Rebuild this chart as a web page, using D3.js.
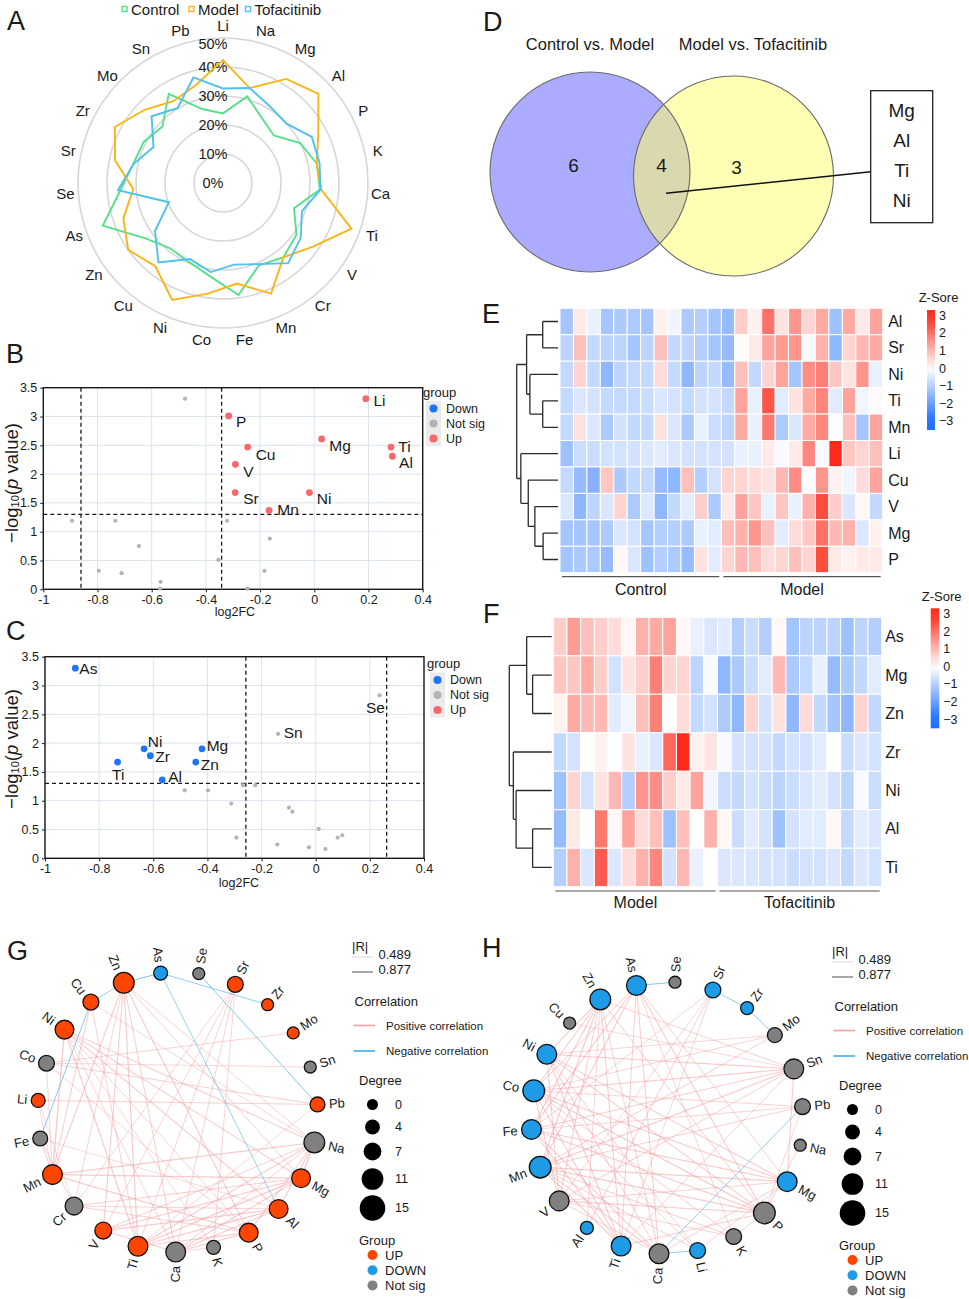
<!DOCTYPE html>
<html>
<head>
<meta charset="utf-8">
<script src="https://cdn.jsdelivr.net/npm/d3@7"></script>
<style>
  body { margin: 0; background: #fff; }
</style>
</head>
<body>
<div id="vis"></div>
<script>
// ---------- values ----------

// A: radar, % per element
const radarElements = ["Li","Na","Mg","Al","P","K","Ca","Ti","V","Cr","Mn","Fe","Co","Ni","Cu","Zn","As","Se","Sr","Zr","Mo","Sn","Pb"];
const radarControl = [24,31,26,24,30,33,33.5,26,31,33,31,39,32.5,29.6,29,33,44,35.4,31.7,30.8,28.6,36,26.5];
const radarModel = [42.4,34,42,45,37,33,34,47,38,33,41.6,35,38.5,44,37,40,36.5,31,38,42,37,33,35];
const radarTofacitinib = [32.6,34,31,30,34.5,34,33.7,28.9,32.8,35.6,30.5,28.4,31,28.6,35.3,28.7,19.8,36.3,31.6,27,33.7,30.2,37.8];
const radarTicks = [0, 10, 20, 30, 40, 50];
const radarSeries = ["Control", "Model", "Tofacitinib"];

// B, C: volcano plots  [element, log2FC, -log10(p), group]
const volcanoGroups = ["Down", "Not sig", "Up"];
const volcanoB = [
  ["Li",0.19,3.31,"Up"], ["P",-0.316,3.01,"Up"], ["Mg",0.027,2.61,"Up"], ["Cu",-0.246,2.47,"Up"],
  ["Ti",0.283,2.47,"Up"], ["Al",0.288,2.31,"Up"], ["V",-0.291,2.17,"Up"], ["Sr",-0.292,1.68,"Up"],
  ["Ni",-0.018,1.68,"Up"], ["Mn",-0.167,1.37,"Up"],
  [null,-0.477,3.31,"Not sig"], [null,-0.894,1.19,"Not sig"], [null,-0.734,1.19,"Not sig"],
  [null,-0.322,1.19,"Not sig"], [null,-0.164,0.88,"Not sig"], [null,-0.647,0.75,"Not sig"],
  [null,-0.354,0.51,"Not sig"], [null,-0.795,0.32,"Not sig"], [null,-0.711,0.28,"Not sig"],
  [null,-0.184,0.32,"Not sig"], [null,-0.567,0.13,"Not sig"], [null,-0.569,0.01,"Not sig"],
  [null,-0.247,0.01,"Not sig"]
];
const volcanoBCutFC = [-0.861, -0.342];
const volcanoC = [
  ["As",-0.888,3.30,"Down"], ["Ni",-0.634,1.90,"Down"], ["Mg",-0.42,1.90,"Down"], ["Zr",-0.611,1.78,"Down"],
  ["Ti",-0.732,1.67,"Down"], ["Zn",-0.443,1.67,"Down"], ["Al",-0.567,1.36,"Down"],
  ["Se",0.236,2.83,"Not sig"], ["Sn",-0.139,2.16,"Not sig"],
  [null,-0.484,1.18,"Not sig"], [null,-0.398,1.18,"Not sig"], [null,-0.269,1.27,"Not sig"],
  [null,-0.223,1.27,"Not sig"], [null,-0.312,0.95,"Not sig"], [null,-0.099,0.88,"Not sig"],
  [null,-0.086,0.81,"Not sig"], [null,0.011,0.51,"Not sig"], [null,-0.293,0.36,"Not sig"],
  [null,0.081,0.36,"Not sig"], [null,0.098,0.40,"Not sig"], [null,-0.142,0.24,"Not sig"],
  [null,-0.025,0.19,"Not sig"], [null,0.036,0.16,"Not sig"]
];
const volcanoCCutFC = [-0.258, 0.262];
const pCut = 1.301;
const fcTicks = [-1, -0.8, -0.6, -0.4, -0.2, 0, 0.2, 0.4];
const pTicks = [0, 0.5, 1, 1.5, 2, 2.5, 3, 3.5];

// D: Venn
const vennSets = ["Control vs. Model", "Model vs. Tofacitinib"];
const vennCounts = [6, 4, 3];
const vennShared = ["Mg", "Al", "Ti", "Ni"];

// E: heatmap Control vs Model (z-scores)
const heatERows = ["Al","Sr","Ni","Ti","Mn","Li","Cu","V","Mg","P"];
const heatEGroups = ["Control", "Model"];
const heatE = [
  [-1.2,0.3,-0.3,-1.2,-1.1,-1.1,-1.2,0.2,-0.2,-1.1,-1.0,-1.2,-1.4,0.7,0.2,2.0,0.4,1.5,0.6,1.2,-1.3,1.2,0.3,1.3],
  [-0.9,0.9,-0.8,-0.9,-0.9,-1.2,-0.9,0.9,-0.8,-0.9,-1.0,-1.2,-1.4,0.05,0.3,1.3,1.4,1.5,-0.1,1.1,-1.5,0.6,1.0,1.2],
  [-0.8,0.6,-0.8,-1.5,-0.9,-0.8,-0.8,0.5,-0.8,-1.5,-0.9,-0.8,-1.4,0.9,-0.8,0.6,1.3,-1.2,1.6,1.8,0.8,0.4,1.5,-0.3],
  [-0.8,-0.5,-0.6,-0.8,-0.8,-0.8,-0.7,-0.5,-0.6,-0.8,-0.6,-0.6,-0.8,1.3,-0.3,2.4,-0.4,0.4,1.2,1.7,-0.4,1.3,-0.2,0.05],
  [-0.8,0.4,-0.5,-1.1,-0.6,-0.8,-0.8,0.4,-0.5,-1.1,-0.3,-0.7,-0.9,1.2,-0.3,1.9,-1.1,-0.5,1.2,1.7,0.0,0.9,-1.2,1.3],
  [-1.3,-0.7,-0.7,-0.6,-0.6,-0.6,-0.5,-0.4,-0.5,-0.6,-0.6,-0.6,-0.6,-0.3,-0.3,0.3,-0.1,0.3,1.7,-0.1,3.0,0.8,0.6,0.9],
  [-0.8,-1.4,-1.6,0.8,-1.1,-0.8,-0.8,-1.4,-1.5,0.9,-1.0,-0.6,0.6,0.6,0.5,0.4,1.0,1.6,0.0,1.5,0.2,-0.2,0.5,1.3],
  [-0.5,-1.5,-0.9,-0.5,0.6,-1.1,-0.5,-1.5,-0.8,-0.4,0.7,-1.1,0.3,1.3,0.8,-0.3,0.8,-0.3,1.1,2.5,0.7,-0.5,0.1,-0.8],
  [-1.2,-1.2,-1.2,-1.1,-0.5,-0.6,-1.2,-1.0,-1.0,-1.1,-0.3,-0.4,0.9,1.1,1.5,0.9,-0.4,0.5,0.8,2.0,1.0,1.1,-0.5,0.2],
  [-1.2,-1.1,-1.1,-1.4,0.1,-0.5,-1.3,-1.0,-1.1,-1.4,0.4,-0.4,0.6,1.0,0.9,0.5,0.6,0.9,0.6,2.5,0.3,0.2,0.3,0.3]
];
// row clustering, merge heights relative to root
const treeE = { h: 1, c: [
  { h: 0.76, c: [ { h: 0.37, c: ["Al","Sr"] }, { h: 0.68, c: ["Ni", { h: 0.37, c: ["Ti","Mn"] }] } ] },
  { h: 0.90, c: ["Li", { h: 0.72, c: ["Cu", { h: 0.56, c: ["V", { h: 0.36, c: ["Mg","P"] }] }] }] }
]};

// F: heatmap Model vs Tofacitinib
const heatFRows = ["As","Mg","Zn","Zr","Ni","Al","Ti"];
const heatFGroups = ["Model", "Tofacitinib"];
const heatF = [
  [0.7,1.4,0.9,0.7,0.5,0.1,1.1,1.2,1.3,0.1,-0.3,-0.5,-0.4,-1.0,-0.7,-1.0,0.1,-1.2,-0.9,-0.9,-0.9,-1.3,-0.9,-1.0],
  [0.8,0.8,1.2,0.7,-0.6,0.4,0.7,1.8,0.6,0.6,-0.9,-0.1,-1.5,-1.1,-0.7,-0.4,1.0,-1.1,-0.8,-0.3,-1.4,-1.1,-0.8,-0.4],
  [0.2,1.2,1.0,1.0,-0.4,-0.2,0.9,1.8,0.0,0.5,-0.8,-0.6,-1.1,-1.5,0.6,-0.6,0.4,-1.5,0.5,-0.8,-1.2,-1.5,0.6,-0.8],
  [-0.8,-0.6,0.0,0.2,0.0,0.4,-0.3,-0.5,2.1,3.0,0.2,0.4,-0.1,-0.6,-0.6,-0.6,-0.8,-0.6,-0.6,-0.4,0.0,-0.7,-0.5,-0.6],
  [-1.3,0.6,-0.6,0.4,1.0,-1.0,1.5,1.6,0.7,0.3,1.3,-0.2,-0.7,-0.8,-0.6,-0.7,-0.9,-0.7,-0.5,-0.4,-0.6,-0.9,-0.1,-0.7],
  [-1.4,0.3,0.0,1.9,0.1,1.3,0.5,0.9,-1.3,0.9,0.0,1.1,0.1,-0.7,-0.4,-0.6,-1.3,-0.6,-0.4,-0.4,0.1,-0.8,-0.4,-0.5],
  [-1.0,1.1,-0.5,2.3,-0.5,0.5,1.1,1.7,-0.6,1.0,-0.3,0.0,-0.5,-0.5,-0.5,-0.6,-0.6,-0.7,-0.6,-0.6,-0.5,-0.8,-0.5,-0.6]
];
const treeF = { h: 1, c: [
  { h: 0.59, c: ["As", { h: 0.45, c: ["Mg","Zn"] }] },
  { h: 0.905, c: ["Zr", { h: 0.84, c: ["Ni", { h: 0.45, c: ["Al","Ti"] }] }] }
]};
const zTicks = [3, 2, 1, 0, -1, -2, -3];

// G, H: correlation networks  edges [a, b, R]
const netGroups = ["UP", "DOWN", "Not sig"];
const netGNodes = ["As","Se","Sr","Zr","Mo","Sn","Pb","Na","Mg","Al","P","K","Ca","Ti","V","Cr","Mn","Fe","Li","Co","Ni","Cu","Zn"];
const netGGroup = ["DOWN","Not sig","UP","UP","UP","Not sig","UP","Not sig","UP","UP","UP","Not sig","Not sig","UP","UP","Not sig","UP","Not sig","UP","Not sig","UP","UP","UP"];
const netGEdges = [
  ["As","Zn",-0.62],["As","Zr",-0.55],["As","Al",-0.51],["Se","Pb",-0.58],["Cu","Zn",-0.53],["Cu","Fe",-0.56],
  ["Zn","Mn",0.71],["Zn","Cr",0.58],["Zn","V",0.66],["Zn","Ti",0.74],["Zn","Ca",0.63],["Zn","P",0.69],["Zn","Mg",0.61],["Zn","Na",0.57],
  ["Ni","Na",0.64],["Ni","Mg",0.72],["Ni","Al",0.68],["Ni","P",0.59],["Ni","Ca",0.55],["Ni","Ti",0.77],["Ni","Mn",0.81],["Ni","K",0.52],
  ["Cu","Na",0.54],["Cu","Ti",0.60],["Cu","Mn",0.65],
  ["Co","Mo",0.56],["Co","Sn",0.53],["Co","Pb",0.60],["Co","Mn",0.58],
  ["Li","Pb",0.62],["Li","Mn",0.55],["Li","Cr",0.51],
  ["Fe","Mn",0.66],["Fe","Cr",0.59],["Fe","Al",0.52],
  ["Mn","Na",0.70],["Mn","Mg",0.75],["Mn","P",0.68],
  ["Cr","Mg",0.63],["Cr","Al",0.57],["Cr","Sr",0.54],["Cr","P",0.60],
  ["V","Na",0.62],["V","Mg",0.70],["V","Sr",0.55],["V","Ca",0.66],["V","Al",0.73],
  ["Ti","Na",0.69],["Ti","Sr",0.58],["Ti","Mg",0.80],["Ti","P",0.71],["Ti","Al",0.76],["Ti","Pb",0.53],
  ["Ca","Na",0.60],["Ca","Sr",0.57],["Ca","P",0.74],["Ca","Mg",0.67],["Ca","Al",0.70],["Ca","K",0.52],
  ["K","Sr",0.56],["P","Na",0.65],["P","Co",0.54],["Al","Na",0.72],["Na","Mg",0.85]
];
const netHNodes = ["As","Se","Sr","Zr","Mo","Sn","Pb","Na","Mg","P","K","Li","Ca","Ti","Al","V","Mn","Fe","Co","Ni","Cu","Zn"];
const netHGroup = ["DOWN","Not sig","DOWN","DOWN","Not sig","Not sig","Not sig","Not sig","DOWN","Not sig","Not sig","DOWN","Not sig","DOWN","DOWN","Not sig","DOWN","DOWN","DOWN","DOWN","Not sig","DOWN"];
const netHEdges = [
  ["As","Se",-0.60],["Sr","Zr",-0.55],["Zr","Mo",-0.58],["Pb","Ca",-0.52],["Ca","Li",-0.57],
  ["Zn","Ni",0.72],["Zn","Co",0.68],["Zn","Fe",0.70],["Zn","Mn",0.75],["Zn","V",0.63],["Zn","Al",0.55],["Zn","Ti",0.66],["Zn","Ca",0.60],["Zn","P",0.62],["Zn","Sn",0.58],
  ["As","Ti",0.61],["As","Ca",0.64],["As","K",0.55],["As","P",0.67],["As","Mg",0.59],["As","Mn",0.70],["As","Fe",0.65],["As","Co",0.62],
  ["Sr","Ti",0.56],["Sr","Al",0.60],["Sr","V",0.53],["Sr","Fe",0.55],
  ["Mo","Co",0.57],["Mo","Mn",0.60],["Mo","Ni",0.54],
  ["Sn","Co",0.69],["Sn","Ni",0.66],["Sn","Fe",0.63],["Sn","Mn",0.71],["Sn","V",0.60],["Sn","Ti",0.58],["Sn","Cu",0.52],["Sn","Mg",0.64],
  ["Pb","Co",0.56],["Pb","Fe",0.58],["Pb","Mn",0.61],["Pb","P",0.55],
  ["Na","P",0.60],
  ["Mg","Co",0.70],["Mg","Fe",0.67],["Mg","Ni",0.65],["Mg","Mn",0.72],["Mg","V",0.60],["Mg","Li",0.55],["Mg","Ca",0.58],
  ["P","Ni",0.70],["P","Co",0.73],["P","Fe",0.69],["P","Mn",0.77],["P","V",0.66],["P","Ti",0.62],["P","K",0.57],
  ["K","Co",0.60],["K","Mn",0.63],["K","V",0.56],
  ["Li","Ni",0.58],["Li","Co",0.61],["Li","Mn",0.60],
  ["Ca","Ni",0.62],["Ca","Fe",0.65],["Ca","Mn",0.68],["Ca","V",0.63],
  ["Ti","Ni",0.67],["Ti","Co",0.70],["Ti","Fe",0.66],["Ti","Mn",0.72],
  ["V","Ni",0.64],["V","Co",0.66]
];
const degreeTicks = [0, 4, 7, 11, 15];
const rLegend = [0.489, 0.877];

// ---------- drawing ----------
const W = 969, H = 1299;
const svg = d3.select('#vis').append('svg')
  .attr('width', W).attr('height', H)
  .style('font-family', 'Arial, "Liberation Sans", Helvetica, sans-serif');
svg.append('rect').attr('width', W).attr('height', H).attr('fill', '#fff');

const ink = '#1a1a1a';

function label(x, y, s, size, anchor, g) {
  return (g || svg).append('text')
    .attr('x', x).attr('y', y)
    .attr('font-size', size)
    .attr('text-anchor', anchor || 'start')
    .attr('dominant-baseline', 'central')
    .attr('fill', ink)
    .text(s);
}

// panel letters
const letterPos = { A: [7, 30], B: [6, 363], C: [6, 640], D: [483, 31], E: [482, 323], F: [483, 623], G: [7, 960], H: [482, 957] };
Object.entries(letterPos).forEach(([k, p]) => {
  svg.append('text').attr('x', p[0]).attr('y', p[1]).attr('font-size', 27).attr('fill', ink).text(k);
});

// ----- A: radar -----
function drawRadar() {
  const g = svg.append('g').attr('transform', 'translate(223,183)');
  const r = d3.scaleLinear().domain([0, 50]).range([0, 145]);
  const n = radarElements.length;
  const ang = d3.scalePoint().domain(radarElements).range([0, 2 * Math.PI * (n - 1) / n]);
  const colors = d3.scaleOrdinal().domain(radarSeries).range(['#55e08a', '#fbb416', '#4fc0f2']);

  g.selectAll('circle.ring').data(radarTicks.filter(d => d > 0)).enter().append('circle')
    .attr('r', d => r(d)).attr('fill', 'none')
    .attr('stroke', '#d6d6d6').attr('stroke-width', 1.6);

  // the outer tick label sits a little inside its ring, clear of "Li"
  g.selectAll('text.tick').data(radarTicks).enter().append('text')
    .attr('x', -10).attr('y', d => -Math.min(r(d), 139))
    .attr('text-anchor', 'middle').attr('dominant-baseline', 'central')
    .attr('font-size', 14.5).attr('fill', ink)
    .text(d => d + '%');

  const line = d3.lineRadial().curve(d3.curveLinearClosed)
    .angle((d, i) => ang(radarElements[i]))
    .radius(d => r(d));
  const series = [radarControl, radarModel, radarTofacitinib];
  g.selectAll('path.series').data(series).enter().append('path')
    .attr('d', d => line(d))
    .attr('fill', 'none')
    .attr('stroke', (d, i) => colors(radarSeries[i]))
    .attr('stroke-width', 1.9);

  g.selectAll('text.el').data(radarElements).enter().append('text')
    .attr('x', d => 158 * Math.sin(ang(d)))
    .attr('y', d => -158 * Math.cos(ang(d)))
    .attr('text-anchor', 'middle').attr('dominant-baseline', 'central')
    .attr('font-size', 15).attr('fill', ink)
    .text(d => d);

  // legend along the top
  const lx = [124.5, 191.5, 248];
  radarSeries.forEach((s, i) => {
    svg.append('rect').attr('x', lx[i] - 2.5).attr('y', 6.5).attr('width', 5).attr('height', 5)
      .attr('fill', '#fff').attr('stroke', colors(s)).attr('stroke-width', 1.4);
    label(lx[i] + 6.5, 9, s, 15);
  });
}

// ----- B, C: volcano -----
const volColor = d3.scaleOrdinal().domain(volcanoGroups).range(['#1f74f4', '#b4b4b4', '#f8676b']);
const fmt = d => String(+d.toFixed(1));

function drawVolcano(data, cutFC, box, nudge, lg, ylab, xlab) {
  const x = d3.scaleLinear().domain([-1, 0.4]).range([box.x0, box.x1]);
  const y = d3.scaleLinear().domain([0, 3.5]).range([box.y1, box.y0]);
  const g = svg.append('g');

  g.selectAll('line.gx').data(fcTicks).enter().append('line')
    .attr('x1', d => x(d)).attr('x2', d => x(d)).attr('y1', box.y0).attr('y2', box.y1)
    .attr('stroke', '#dbe3ee').attr('stroke-width', 1);
  g.selectAll('line.gy').data(pTicks).enter().append('line')
    .attr('x1', box.x0).attr('x2', box.x1).attr('y1', d => y(d)).attr('y2', d => y(d))
    .attr('stroke', '#dbe3ee').attr('stroke-width', 1);

  const ax = g.append('g').attr('transform', `translate(0,${box.y1})`)
    .call(d3.axisBottom(x).tickValues(fcTicks).tickFormat(fmt).tickSize(3).tickSizeOuter(0));
  const ay = g.append('g').attr('transform', `translate(${box.x0},0)`)
    .call(d3.axisLeft(y).tickValues(pTicks).tickFormat(fmt).tickSize(3).tickSizeOuter(0));
  [ax, ay].forEach(a => {
    a.select('.domain').remove();
    a.selectAll('text').attr('font-size', 12.5).attr('fill', ink).attr('font-family', null);
    a.selectAll('line').attr('stroke', ink);
  });

  g.append('rect').attr('x', box.x0).attr('y', box.y0)
    .attr('width', box.x1 - box.x0).attr('height', box.y1 - box.y0)
    .attr('fill', 'none').attr('stroke', ink).attr('stroke-width', 1.4);

  // thresholds
  cutFC.forEach(c => {
    g.append('line').attr('x1', x(c)).attr('x2', x(c)).attr('y1', box.y0).attr('y2', box.y1)
      .attr('stroke', ink).attr('stroke-width', 1.3).attr('stroke-dasharray', '4,3');
  });
  g.append('line').attr('x1', box.x0).attr('x2', box.x1).attr('y1', y(pCut)).attr('y2', y(pCut))
    .attr('stroke', ink).attr('stroke-width', 1.3).attr('stroke-dasharray', '4,3');

  g.selectAll('circle.pt').data(data).enter().append('circle')
    .attr('cx', d => x(d[1])).attr('cy', d => y(d[2]))
    .attr('r', d => d[3] === 'Not sig' ? 2.1 : 3.4)
    .attr('fill', d => volColor(d[3]));

  data.filter(d => d[0]).forEach(d => {
    const nd = nudge[d[0]];
    g.append('text')
      .attr('x', x(d[1]) + nd[0]).attr('y', y(d[2]) + nd[1])
      .attr('text-anchor', nd[2] || 'start')
      .attr('font-size', 15.5).attr('fill', ink)
      .text(d[0]);
  });

  // legend
  g.append('rect').attr('x', lg.x + 3).attr('y', lg.y + 9).attr('width', 15).attr('height', 45).attr('fill', '#ebebeb');
  label(lg.x, lg.y, 'group', 13, 'start', g);
  volcanoGroups.forEach((s, i) => {
    g.append('circle').attr('cx', lg.x + 10.5).attr('cy', lg.y + 16.5 + i * 15).attr('r', 4)
      .attr('fill', volColor(s));
    label(lg.x + 23, lg.y + 16.5 + i * 15, s, 12.5, 'start', g);
  });

  const yl = g.append('text')
    .attr('transform', `translate(${ylab[0]},${ylab[1]}) rotate(-90)`)
    .attr('text-anchor', 'middle').attr('dominant-baseline', 'central')
    .attr('font-size', 18.5).attr('fill', ink);
  yl.append('tspan').text('\u2212log');
  yl.append('tspan').attr('font-size', 11).attr('dy', 4).text('10');
  yl.append('tspan').attr('dy', -4).text('(');
  yl.append('tspan').attr('font-style', 'italic').text('p');
  yl.append('tspan').text(' value)');

  label(xlab[0], xlab[1], 'log2FC', 12.5, 'middle', g);
}

// ----- D: Venn -----
function drawVenn() {
  const c1 = { x: 590, y: 172, r: 100 }, c2 = { x: 733.5, y: 176, r: 100 };
  const g = svg.append('g');
  g.append('defs').append('clipPath').attr('id', 'clipLeft')
    .append('circle').attr('cx', c1.x).attr('cy', c1.y).attr('r', c1.r);
  g.append('circle').attr('cx', c1.x).attr('cy', c1.y).attr('r', c1.r).attr('fill', '#abacff');
  g.append('circle').attr('cx', c2.x).attr('cy', c2.y).attr('r', c2.r).attr('fill', '#ffffb4');
  g.append('circle').attr('cx', c2.x).attr('cy', c2.y).attr('r', c2.r).attr('fill', '#d9d8ae')
    .attr('clip-path', 'url(#clipLeft)');
  [c1, c2].forEach(c => {
    g.append('circle').attr('cx', c.x).attr('cy', c.y).attr('r', c.r)
      .attr('fill', 'none').attr('stroke', '#6a6a6a').attr('stroke-width', 1.1);
  });

  label(590, 44, vennSets[0], 16.5, 'middle', g);
  label(753, 44, vennSets[1], 16.5, 'middle', g);
  const numPos = [[573.5, 165], [661.5, 165.5], [736.5, 167.5]];
  vennCounts.forEach((v, i) => label(numPos[i][0], numPos[i][1], v, 19, 'middle', g));

  g.append('line').attr('x1', 666).attr('y1', 193.3).attr('x2', 870.7).attr('y2', 171.7)
    .attr('stroke', '#111').attr('stroke-width', 1.5);
  g.append('rect').attr('x', 870.7).attr('y', 90.7).attr('width', 62).attr('height', 132)
    .attr('fill', '#fff').attr('stroke', '#222').attr('stroke-width', 1.3);
  vennShared.forEach((s, i) => label(901.7, 110 + i * 30.3, s, 19, 'middle', g));
}

// ----- E, F: heatmaps -----
const zColor = d3.scaleLinear().domain([-3, 0, 3]).range(['#1f6fff', '#ffffff', '#ff2a1a']).clamp(true);

function drawHeatmap(rows, values, tree, groups, cfg) {
  const g = svg.append('g');
  const cols = d3.range(values[0].length);
  const x = d3.scaleBand().domain(cols).range([cfg.x0, cfg.x1]);
  const y = d3.scaleBand().domain(rows).range([cfg.y0, cfg.y1]);

  rows.forEach((row, i) => {
    g.selectAll(null).data(values[i]).enter().append('rect')
      .attr('x', (d, j) => x(j)).attr('y', y(row))
      .attr('width', x.bandwidth()).attr('height', y.bandwidth())
      .attr('fill', d => zColor(d))
      .attr('stroke', '#fff').attr('stroke-width', 1);
    label(cfg.x1 + cfg.rowLabelGap, y(row) + y.bandwidth() / 2, row, 16, 'start', g);
  });

  // group bars under the columns
  const half = cols.length / 2;
  groups.forEach((name, k) => {
    const a = x(k * half) + 2, b = x(k * half + half - 1) + x.bandwidth() - 2;
    g.append('line').attr('x1', a).attr('x2', b).attr('y1', cfg.barY).attr('y2', cfg.barY)
      .attr('stroke', '#555').attr('stroke-width', 1.2);
    label((a + b) / 2, cfg.barY + cfg.textGap, name, 16, 'middle', g);
  });

  // row dendrogram
  const root = d3.hierarchy(tree, d => typeof d === 'string' ? null : d.c);
  const hx = d3.scaleLinear().domain([0, 1]).range([cfg.leafX, cfg.rootX]);
  root.eachAfter(nd => {
    if (!nd.children) {
      nd.px = cfg.leafX;
      nd.py = y(nd.data) + y.bandwidth() / 2;
    } else {
      nd.px = hx(nd.data.h);
      nd.py = d3.mean(nd.children, c => c.py);
    }
  });
  const path = d3.path();
  root.each(nd => {
    if (!nd.children) return;
    const ys = nd.children.map(c => c.py);
    path.moveTo(nd.px, d3.min(ys));
    path.lineTo(nd.px, d3.max(ys));
    nd.children.forEach(c => { path.moveTo(nd.px, c.py); path.lineTo(c.px, c.py); });
  });
  g.append('path').attr('d', path.toString()).attr('fill', 'none')
    .attr('stroke', '#2b2b2b').attr('stroke-width', 1.3);

  // colour key
  const lg = cfg.legend;
  const ly = d3.scaleLinear().domain([3.33, -3.5]).range([lg.y0, lg.y1]);
  const gid = 'zgrad' + cfg.id;
  const grad = g.append('defs').append('linearGradient').attr('id', gid)
    .attr('x1', 0).attr('x2', 0).attr('y1', 0).attr('y2', 1);
  d3.range(0, 1.0001, 0.1).forEach(t => {
    grad.append('stop').attr('offset', t).attr('stop-color', zColor(ly.invert(lg.y0 + t * (lg.y1 - lg.y0))));
  });
  g.append('rect').attr('x', lg.x).attr('y', lg.y0).attr('width', lg.w).attr('height', lg.y1 - lg.y0)
    .attr('fill', `url(#${gid})`);
  zTicks.forEach(v => label(lg.x + lg.w + 4, ly(v), v < 0 ? '\u2212' + (-v) : String(v), 12.5, 'start', g));
  label(lg.titleX, lg.titleY, 'Z-Sore', 13, 'middle', g);
}

// ----- G, H: correlation networks -----
const netColor = d3.scaleOrdinal().domain(netGroups).range(['#ff4500', '#1e9be6', '#808080']);
const nodeSize = d3.scaleLinear().domain([0, 15]).range([5.5, 12.8]);
const edgeWidth = d3.scaleLinear().domain(rLegend).range([0.7, 1.5]);

function drawNetwork(nodes, groups, edges, cfg) {
  const g = svg.append('g');
  const n = nodes.length;
  const degree = new Map(nodes.map(d => [d, 0]));
  edges.forEach(([a, b]) => {
    degree.set(a, degree.get(a) + 1);
    degree.set(b, degree.get(b) + 1);
  });
  const ang = d3.scaleLinear().domain([0, n]).range([cfg.start, cfg.start + 360]);
  const pos = new Map(nodes.map((d, i) => {
    const t = ang(i) * Math.PI / 180;
    return [d, { x: cfg.cx + cfg.R * Math.sin(t), y: cfg.cy - cfg.R * Math.cos(t), a: ang(i) }];
  }));

  g.selectAll('line.edge').data(edges.filter(e => e[2] > 0).concat(edges.filter(e => e[2] < 0)))
    .enter().append('line')
    .attr('x1', d => pos.get(d[0]).x).attr('y1', d => pos.get(d[0]).y)
    .attr('x2', d => pos.get(d[1]).x).attr('y2', d => pos.get(d[1]).y)
    .attr('stroke', d => d[2] > 0 ? '#f19a9a' : '#5ab9e8')
    .attr('stroke-opacity', d => d[2] > 0 ? 0.5 : 0.85)
    .attr('stroke-width', d => edgeWidth(Math.abs(d[2])));

  nodes.forEach((d, i) => {
    const p = pos.get(d);
    const rr = nodeSize(degree.get(d));
    g.append('circle').attr('cx', p.x).attr('cy', p.y).attr('r', rr)
      .attr('fill', netColor(groups[i])).attr('stroke', '#111').attr('stroke-width', 1.3);
    const phi = p.a - 90;
    const t = phi * Math.PI / 180;
    const lr = cfg.R + rr + 4;
    const right = Math.cos(t) >= -0.001;
    g.append('text')
      .attr('transform', `translate(${cfg.cx + lr * Math.cos(t)},${cfg.cy + lr * Math.sin(t)}) rotate(${right ? phi : phi + 180})`)
      .attr('text-anchor', right ? 'start' : 'end')
      .attr('dominant-baseline', 'central')
      .attr('font-size', 13).attr('fill', ink)
      .text(d);
  });

  // legend
  const ox = cfg.legend[0], oy = cfg.legend[1];
  label(ox, oy + 1, '|R|', 13, 'start', g);
  const rCol = ['#c9c9c9', '#8a8a8a'];
  rLegend.forEach((v, i) => {
    g.append('line').attr('x1', ox).attr('x2', ox + 21).attr('y1', oy + 12 + i * 15).attr('y2', oy + 12 + i * 15)
      .attr('stroke', rCol[i]).attr('stroke-width', edgeWidth(v));
    label(ox + 26.5, oy + 9.5 + i * 15, v, 13, 'start', g);
  });
  label(ox + 2.5, oy + 56, 'Correlation', 13, 'start', g);
  [['Positive correlation', '#f5a0a0'], ['Negative correlation', '#3cb0ee']].forEach((c, i) => {
    g.append('line').attr('x1', ox + 1.5).attr('x2', ox + 23).attr('y1', oy + 80.5 + i * 25.5).attr('y2', oy + 80.5 + i * 25.5)
      .attr('stroke', c[1]).attr('stroke-width', 1.6);
    label(ox + 34, oy + 80.5 + i * 25.5, c[0], 11.5, 'start', g);
  });
  label(ox + 7, oy + 135.5, 'Degree', 13, 'start', g);
  const dy = [159.5, 182, 206.5, 234, 263];
  degreeTicks.forEach((v, i) => {
    g.append('circle').attr('cx', ox + 20.5).attr('cy', oy + dy[i]).attr('r', nodeSize(v)).attr('fill', '#000');
    label(ox + 43, oy + dy[i], v, 12.5, 'start', g);
  });
  label(ox + 7, oy + 295.5, 'Group', 13, 'start', g);
  netGroups.forEach((s, i) => {
    g.append('circle').attr('cx', ox + 20.5).attr('cy', oy + 310 + i * 15.2).attr('r', 5).attr('fill', netColor(s));
    label(ox + 33, oy + 310 + i * 15.2, s, 13, 'start', g);
  });
}

drawRadar();
drawVolcano(volcanoB, volcanoBCutFC, { x0: 43.3, x1: 422.7, y0: 387.7, y1: 589.3 },
  { Li: [7.7, 7.7], P: [7.3, 11.3], Mg: [7.7, 11.7], Cu: [8, 13], Ti: [7.3, 4.7], Al: [6.7, 12],
    V: [7.7, 12.3], Sr: [8, 11], Ni: [7.3, 11], Mn: [8.3, 4.7] },
  { x: 423, y: 392 }, [10.5, 483], [235, 612]);
drawVolcano(volcanoC, volcanoCCutFC, { x0: 45, x1: 424, y0: 656.7, y1: 858.3 },
  { As: [4, 5.3], Ni: [3.7, -2.3], Zr: [5, 6.7], Ti: [0.7, 17.7, 'middle'], Mg: [4.7, 2],
    Zn: [5, 8.3], Al: [6, 1.7], Sn: [5.7, 4.3], Se: [5.3, 18, 'end'] },
  { x: 427, y: 663.5 }, [10.5, 749], [239, 883]);
drawVenn();
drawHeatmap(heatERows, heatE, treeE, heatEGroups, {
  id: 'E', x0: 560, x1: 882.7, y0: 308.3, y1: 572.7, rowLabelGap: 5.5,
  barY: 576.7, textGap: 13, leafX: 558, rootX: 516.7,
  legend: { x: 927, w: 8, y0: 310, y1: 430, titleX: 938.5, titleY: 297.5 }
});
drawHeatmap(heatFRows, heatF, treeF, heatFGroups, {
  id: 'F', x0: 553.3, x1: 881.7, y0: 617.3, y1: 886.7, rowLabelGap: 3.5,
  barY: 891, textGap: 11, leafX: 551.7, rootX: 509.3,
  legend: { x: 930.7, w: 8.6, y0: 608.3, y1: 728.3, titleX: 941.7, titleY: 596.7 }
});
drawNetwork(netGNodes, netGGroup, netGEdges, { cx: 177.7, cy: 1112, R: 140, start: -7, legend: [352, 945] });
drawNetwork(netHNodes, netHGroup, netHEdges, { cx: 667, cy: 1118, R: 136, start: -13, legend: [832, 950] });
</script>
</body>
</html>
